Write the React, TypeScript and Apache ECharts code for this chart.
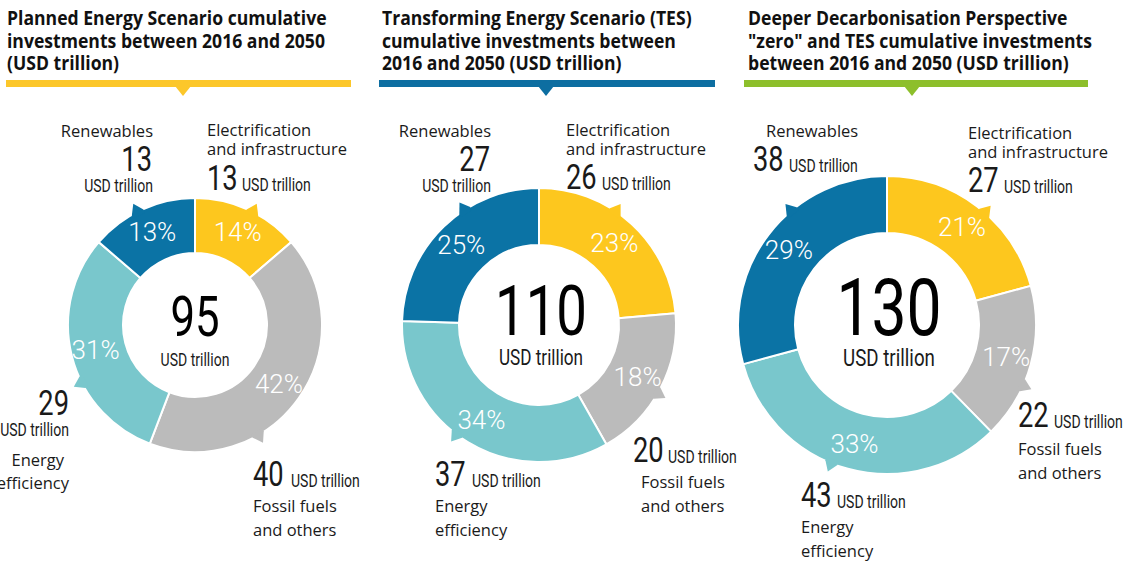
import React, { useEffect, useRef } from 'react';
import * as echarts from 'echarts';

const categories = ['Electrification and infrastructure', 'Fossil fuels and others', 'Energy efficiency', 'Renewables'];
const sliceColors = ['#fdc71e', '#bbbbbb', '#79c7cc', '#0b73a5'];

const pesValues = [13, 40, 29, 13];
const pesPercents = [14, 42, 31, 13];
const pesTotal = 95;

const tesValues = [26, 20, 37, 27];
const tesPercents = [23, 18, 34, 25];
const tesTotal = 110;

const ddpValues = [27, 22, 43, 38];
const ddpPercents = [21, 17, 33, 29];
const ddpTotal = 130;

const titleLines = [
  ['Planned Energy Scenario cumulative', 'investments between 2016 and 2050', '(USD trillion)'],
  ['Transforming Energy Scenario (TES)', 'cumulative investments between', '2016 and 2050 (USD trillion)'],
  ['Deeper Decarbonisation Perspective', '"zero" and TES cumulative investments', 'between 2016 and 2050 (USD trillion)'],
];
const titleColors = ['#fcc72a', '#0d6ea1', '#8dbf2b'];
const unit = 'USD trillion';

const SANS = '"Open Sans", "Noto Sans", sans-serif';
const COND = 'Roboto, "Noto Sans", sans-serif';
const SQ = 0.78;

type T = { text: string; x: number; y: number; size: number; cond?: boolean; align?: string; weight?: any; color?: string; sx?: number; lh?: number };
// y is the baseline of the first line
const txt = (o: T) => {
  const n = o.text.split('\n').length;
  const lh = o.lh || o.size * 1.2;
  return {
    type: 'text',
    x: o.x,
    y: o.y - 0.355 * o.size + ((n - 1) * lh) / 2,
    scaleX: o.sx || (o.cond ? SQ : 1),
    silent: true,
    z: 10,
    style: {
      text: o.text,
      fontSize: o.size,
      lineHeight: lh,
      fontFamily: o.cond ? COND : SANS,
      fontWeight: o.weight || 'normal',
      fill: o.color || '#1a1a1a',
      textAlign: o.align || 'left',
      textVerticalAlign: 'middle',
      align: o.align || 'left',
      verticalAlign: 'middle',
    },
  };
};

const LS = 16.5; // label font size
const NUM = 35;
const UNIT = 18;

export default function App() {
  const ref = useRef<HTMLDivElement>(null);
  useEffect(() => {
    if (!ref.current) return;
    const chart = echarts.init(ref.current, undefined, { renderer: 'svg' });

    const mkPie = (values: number[], percents: number[], center: number[], radius: number[]) => ({
      type: 'pie',
      center,
      radius,
      startAngle: 90,
      clockwise: true,
      silent: true,
      z: 2,
      avoidLabelOverlap: false,
      itemStyle: { borderColor: '#ffffff', borderWidth: 2 },
      label: {
        show: true,
        position: 'inside',
        color: '#ffffff',
        fontSize: 26,
        fontFamily: COND,
        fontWeight: 300,
        formatter: (p: any) => percents[p.dataIndex] + '%',
      },
      labelLine: { show: false },
      data: values.map((v, i) => ({ name: categories[i], value: v, itemStyle: { color: sliceColors[i] } })),
    });

    const g: any[] = [];
    const titleX = [7, 382, 748];
    const barX = [[6, 351], [379, 715], [744, 1088]];
    const triX = [183, 546, 912];
    titleLines.forEach((lines, k) => {
      lines.forEach((l, j) => g.push(txt({ text: l, x: titleX[k], y: 25 + j * 22.5, size: 20, weight: 'bold', color: '#111', sx: 0.88 })));
      g.push({ type: 'rect', shape: { x: barX[k][0], y: 80, width: barX[k][1] - barX[k][0], height: 7 }, style: { fill: titleColors[k] }, silent: true });
      g.push({ type: 'polygon', shape: { points: [[triX[k] - 8, 86], [triX[k] + 8, 86], [triX[k], 96]] }, style: { fill: titleColors[k] }, silent: true });
    });

    // small pointer tabs on the outer edge of each ring (decoration)
    const tabs = (c: number[], r: number, angles: number[]) => {
      angles.forEach((deg, i) => {
        const half = (6.5 / r) * (180 / Math.PI);
        const p = (a: number, rr: number) => [c[0] + rr * Math.sin((a * Math.PI) / 180), c[1] - rr * Math.cos((a * Math.PI) / 180)];
        g.push({ type: 'polygon', z: 5, silent: true, shape: { points: [p(deg - half, r - 4), p(deg - half, r - 0.5), p(deg, r + 9), p(deg + half, r - 0.5), p(deg + half, r - 4)] }, style: { fill: sliceColors[i] } });
      });
    };
    const c1 = [195, 325], r1 = [72, 127];
    const c2 = [539, 325], r2 = [80, 137];
    const c3 = [887, 325], r3 = [92, 149];
    tabs(c1, r1[1], [27, 150, 243, 333]);
    tabs(c2, r2[1], [34, 120, 217, 327]);
    tabs(c3, r3[1], [41, 114, 202, 320]);

    // chart 1 labels
    g.push(txt({ text: 'Renewables', x: 153, y: 136, size: LS, align: 'right' }));
    g.push(txt({ text: String(pesValues[3]), x: 152, y: 172, size: NUM, cond: true, align: 'right' }));
    g.push(txt({ text: unit, x: 153, y: 192, size: UNIT, cond: true, align: 'right' }));
    g.push(txt({ text: 'Electrification\nand infrastructure', x: 207, y: 135, size: LS, lh: 19 }));
    g.push(txt({ text: String(pesValues[0]), x: 207, y: 191, size: NUM, cond: true }));
    g.push(txt({ text: unit, x: 242, y: 191, size: UNIT, cond: true }));
    g.push(txt({ text: String(pesValues[2]), x: 69, y: 416, size: NUM, cond: true, align: 'right' }));
    g.push(txt({ text: unit, x: 69, y: 436, size: UNIT, cond: true, align: 'right' }));
    g.push(txt({ text: 'Energy', x: 64, y: 465, size: LS, align: 'right' }));
    g.push(txt({ text: 'efficiency', x: 69, y: 488, size: LS, align: 'right' }));
    g.push(txt({ text: String(pesValues[1]), x: 253, y: 487, size: NUM, cond: true }));
    g.push(txt({ text: unit, x: 291, y: 487, size: UNIT, cond: true }));
    g.push(txt({ text: 'Fossil fuels\nand others', x: 253, y: 511, size: LS, lh: 24 }));
    g.push(txt({ text: String(pesTotal), x: 195, y: 336, size: 56, cond: true, align: 'center', color: '#000' }));
    g.push(txt({ text: unit, x: 195, y: 366, size: 18, cond: true, align: 'center' }));

    // chart 2 labels
    g.push(txt({ text: 'Renewables', x: 491, y: 136, size: LS, align: 'right' }));
    g.push(txt({ text: String(tesValues[3]), x: 490, y: 172, size: NUM, cond: true, align: 'right' }));
    g.push(txt({ text: unit, x: 491, y: 192, size: UNIT, cond: true, align: 'right' }));
    g.push(txt({ text: 'Electrification\nand infrastructure', x: 566, y: 135, size: LS, lh: 19 }));
    g.push(txt({ text: String(tesValues[0]), x: 566, y: 190, size: NUM, cond: true }));
    g.push(txt({ text: unit, x: 602, y: 190, size: UNIT, cond: true }));
    g.push(txt({ text: String(tesValues[2]), x: 435, y: 487, size: NUM, cond: true }));
    g.push(txt({ text: unit, x: 472, y: 487, size: UNIT, cond: true }));
    g.push(txt({ text: 'Energy\nefficiency', x: 435, y: 511, size: LS, lh: 24 }));
    g.push(txt({ text: String(tesValues[1]), x: 633, y: 463, size: NUM, cond: true }));
    g.push(txt({ text: unit, x: 668, y: 463, size: UNIT, cond: true }));
    g.push(txt({ text: 'Fossil fuels\nand others', x: 641, y: 487, size: LS, lh: 24 }));
    g.push(txt({ text: String(tesTotal), x: 541, y: 336, size: 70, cond: true, align: 'center', color: '#000' }));
    g.push(txt({ text: unit, x: 541, y: 366, size: 22, cond: true, align: 'center' }));

    // chart 3 labels
    g.push(txt({ text: 'Renewables', x: 766, y: 136, size: LS }));
    g.push(txt({ text: String(ddpValues[3]), x: 753, y: 172, size: NUM, cond: true }));
    g.push(txt({ text: unit, x: 789, y: 172, size: UNIT, cond: true }));
    g.push(txt({ text: 'Electrification\nand infrastructure', x: 968, y: 138, size: LS, lh: 19 }));
    g.push(txt({ text: String(ddpValues[0]), x: 968, y: 193, size: NUM, cond: true }));
    g.push(txt({ text: unit, x: 1004, y: 193, size: UNIT, cond: true }));
    g.push(txt({ text: String(ddpValues[1]), x: 1018, y: 428, size: NUM, cond: true }));
    g.push(txt({ text: unit, x: 1054, y: 428, size: UNIT, cond: true }));
    g.push(txt({ text: 'Fossil fuels\nand others', x: 1018, y: 454, size: LS, lh: 24 }));
    g.push(txt({ text: String(ddpValues[2]), x: 801, y: 508, size: NUM, cond: true }));
    g.push(txt({ text: unit, x: 837, y: 508, size: UNIT, cond: true }));
    g.push(txt({ text: 'Energy\nefficiency', x: 801, y: 532, size: LS, lh: 24 }));
    g.push(txt({ text: String(ddpTotal), x: 889, y: 336, size: 80, cond: true, align: 'center', color: '#000' }));
    g.push(txt({ text: unit, x: 889, y: 366, size: 24, cond: true, align: 'center' }));

    chart.setOption({
      animation: false,
      backgroundColor: '#ffffff',
      series: [
        mkPie(pesValues, pesPercents, c1, r1),
        mkPie(tesValues, tesPercents, c2, r2),
        mkPie(ddpValues, ddpPercents, c3, r3),
      ],
      graphic: { elements: g },
    });
    return () => chart.dispose();
  }, []);
  return <div ref={ref} style={{ position: 'absolute', left: 0, top: 0, width: 1138, height: 561 }} />;
}
